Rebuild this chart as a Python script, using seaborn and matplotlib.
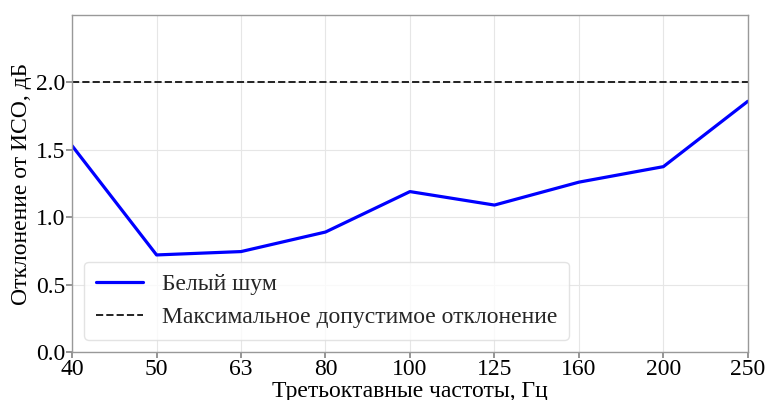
import matplotlib
matplotlib.use("Agg")
import matplotlib.pyplot as plt
import seaborn as sns
import pandas as pd

# Third-octave band centre frequencies and measured deviation
freqs = ["40", "50", "63", "80", "100", "125", "160", "200", "250"]
deviation = [1.53, 0.72, 0.745, 0.89, 1.19, 1.09, 1.26, 1.375, 1.86]
max_allowed = 2.0

sns.set_theme(style="whitegrid")
plt.rcParams["font.family"] = ["Liberation Serif", "DejaVu Serif"]

df = pd.DataFrame({"pos": range(len(freqs)), "dev": deviation})

fig = plt.figure(figsize=(7.67, 4.0), dpi=100)
ax = fig.add_axes([0.094, 0.12, 0.881, 0.8425])

sns.lineplot(data=df, x="pos", y="dev", ax=ax, color="blue", linewidth=2.3,
             label="Белый шум")
ax.axhline(max_allowed, color="#222222", linestyle="--", linewidth=1.4,
           label="Максимальное допустимое отклонение")

ax.set_xlim(0, len(freqs) - 1)
ax.set_ylim(0, 2.5)
ax.set_xticks(range(len(freqs)))
ax.set_xticklabels(freqs)
ax.set_yticks([0.0, 0.5, 1.0, 1.5, 2.0])
ax.set_yticklabels(["0.0", "0.5", "1.0", "1.5", "2.0"])

ax.tick_params(axis="both", labelsize=17, length=4, color="#888888",
               labelcolor="black", bottom=True, left=True, pad=1)
ax.set_xlabel("Третьоктавные частоты, Гц", fontsize=17, color="black", labelpad=1)
ax.set_ylabel("Отклонение от ИСО, дБ", fontsize=17, color="black", labelpad=3)

ax.grid(True, color="#e6e6e6", linewidth=0.8)
for s in ax.spines.values():
    s.set_color("#999999")
    s.set_linewidth(1.0)

leg = ax.legend(loc="lower left", fontsize=17, frameon=True, fancybox=True,
                borderpad=0.5, labelspacing=0.5, handlelength=2.0,
                handletextpad=0.8, bbox_to_anchor=(0.0, 0.0))
leg.get_frame().set_edgecolor("#dddddd")

fig.savefig("out.png", dpi=100)
